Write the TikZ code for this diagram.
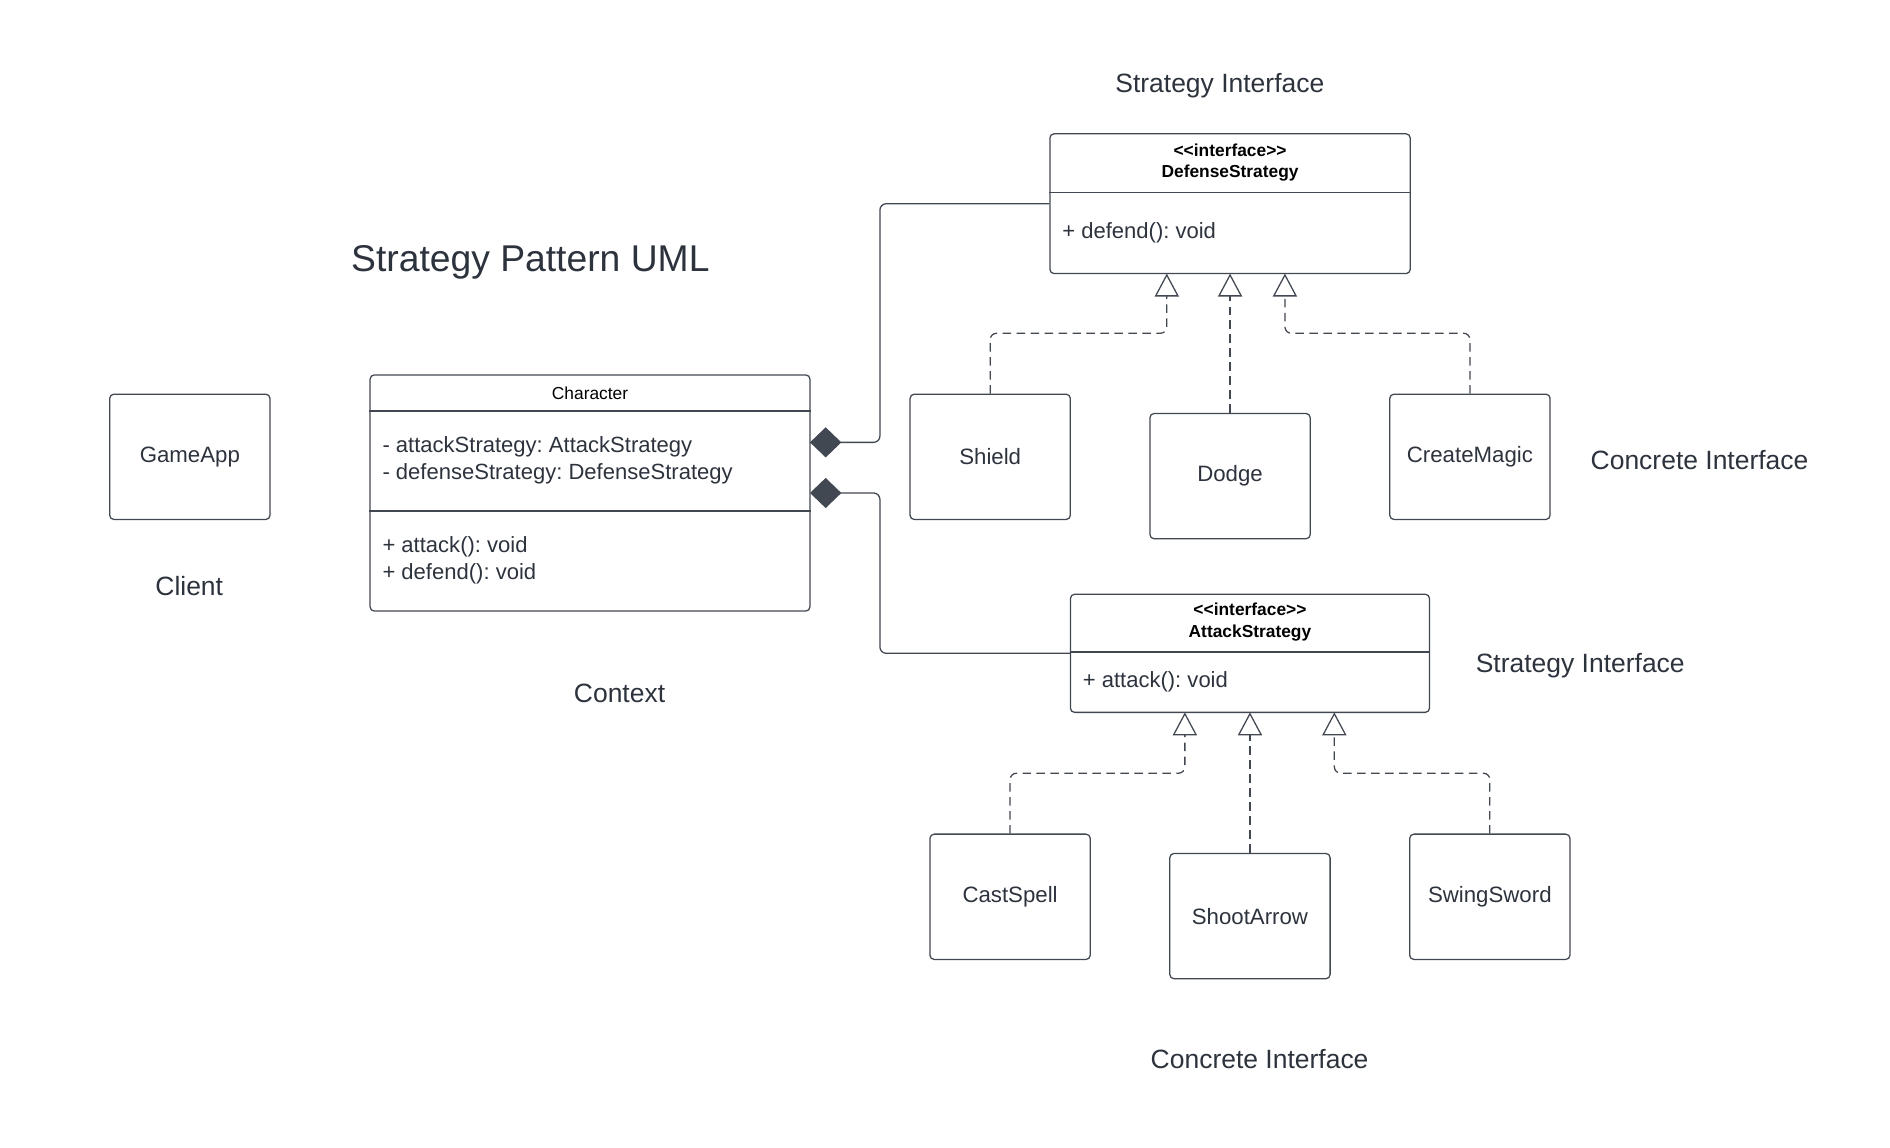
\documentclass[tikz,border=0pt]{standalone}
\usepackage{fontspec}
\setmainfont{Liberation Sans}
\usepackage{tikz}
\usetikzlibrary{arrows.meta,positioning}
\frenchspacing

\definecolor{ink}{RGB}{66,72,82}
\definecolor{txt}{RGB}{45,51,61}

\tikzset{
  box/.style={draw=ink, line width=0.6pt, rounded corners=2pt, minimum width=2.66cm, minimum height=2.08cm, text=txt, font=\fontsize{10.5}{13}\selectfont},
  member/.style={anchor=west, align=left, inner sep=0pt, text=txt, font=\fontsize{10.4}{12.6}\selectfont},
  head/.style={align=center, inner sep=0pt, text=black, font=\fontsize{8.2}{10.2}\selectfont\bfseries},
  lbl/.style={text=txt, font=\fontsize{12.5}{15}\selectfont},
  real/.style={draw=ink, line width=0.6pt, dash pattern=on 4pt off 2.6pt, rounded corners=3pt, -{Triangle[open, length=0.38cm, width=0.4cm, fill=white]}},
  compo/.style={draw=ink, line width=0.6pt, rounded corners=3pt, {Diamond[length=0.52cm, width=0.5cm, fill=ink]}-},
}

\begin{document}
\begin{tikzpicture}[x=0.02cm, y=-0.02cm]
  \useasboundingbox (0,0) rectangle (1568,952.4);

  \node[text=txt, font=\fontsize{17.6}{21}\selectfont] (title) at (440,218) {Strategy Pattern UML};

  % client
  \node[box] (game) at (157.5,379) {GameApp};
  \node[lbl] (client) at (157,486) {Client};

  % context
  \node[box, minimum width=7.3cm, minimum height=3.92cm] (char) at (489.5,409) {};
  \node[head, font=\fontsize{8.2}{10.2}\selectfont] (charname) at (489.5,326) {Character};
  \draw[ink, line width=0.6pt] (char.west |- 0,341) -- (char.east |- 0,341);
  \draw[ink, line width=0.6pt] (char.west |- 0,424) -- (char.east |- 0,424);
  \node[member] (charattr) at (317,382) {- attackStrategy: AttackStrategy\\- defenseStrategy: DefenseStrategy};
  \node[member] (charops) at (317,465) {+ attack(): void\\+ defend(): void};
  \node[lbl] (context) at (514,575) {Context};

  % defense strategy
  \node[box, minimum width=5.98cm, minimum height=2.32cm] (defense) at (1020.5,169) {};
  \node[head] (defname) at (1020.5,135) {{<}{<}interface{>}{>}\\DefenseStrategy};
  \draw[ink, line width=0.6pt] (defense.west |- 0,160) -- (defense.east |- 0,160);
  \node[member] (defops) at (881,193) {+ defend(): void};
  \node[lbl] (stratA) at (1012,71) {Strategy Interface};

  \coordinate (dt1) at (968,227);
  \coordinate (dt2) at (1020.5,227);
  \coordinate (dt3) at (1066,227);

  \node[box] (shield) at (821.5,379) {Shield};
  \node[box] (dodge) at (1020.5,395) {Dodge};
  \node[box] (magic) at (1219.5,379) {CreateMagic};
  \node[lbl] (concA) at (1410,382) {Concrete Interface};

  \draw[real] (shield.north) -- ++(0,-50) -| (dt1);
  \draw[real] (dodge.north) -- (dt2);
  \draw[real] (magic.north) -- ++(0,-50) -| (dt3);

  % attack strategy
  \node[box, minimum width=5.96cm, minimum height=1.96cm] (attack) at (1037,542) {};
  \node[head] (attname) at (1037,516) {{<}{<}interface{>}{>}\\AttackStrategy};
  \draw[ink, line width=0.6pt] (attack.west |- 0,541) -- (attack.east |- 0,541);
  \node[member] (attops) at (898,566) {+ attack(): void};
  \node[lbl] (stratB) at (1311,552) {Strategy Interface};

  \coordinate (at1) at (983,591);
  \coordinate (at2) at (1037,591);
  \coordinate (at3) at (1107,591);

  \node[box] (cast) at (838,744) {CastSpell};
  \node[box] (shoot) at (1037,760) {ShootArrow};
  \node[box] (swing) at (1236,744) {SwingSword};
  \node[lbl] (concB) at (1045,879) {Concrete Interface};

  \draw[real] (cast.north) -- ++(0,-50) -| (at1);
  \draw[real] (shoot.north) -- (at2);
  \draw[real] (swing.north) -- ++(0,-50) -| (at3);

  % composition
  \coordinate (cc1) at (672,367);
  \coordinate (cc2) at (672,409);
  \draw[compo] (cc1) -- ++(58,0) |- (defense.west);
  \draw[compo] (cc2) -- ++(58,0) |- (attack.west);
\end{tikzpicture}
\end{document}
